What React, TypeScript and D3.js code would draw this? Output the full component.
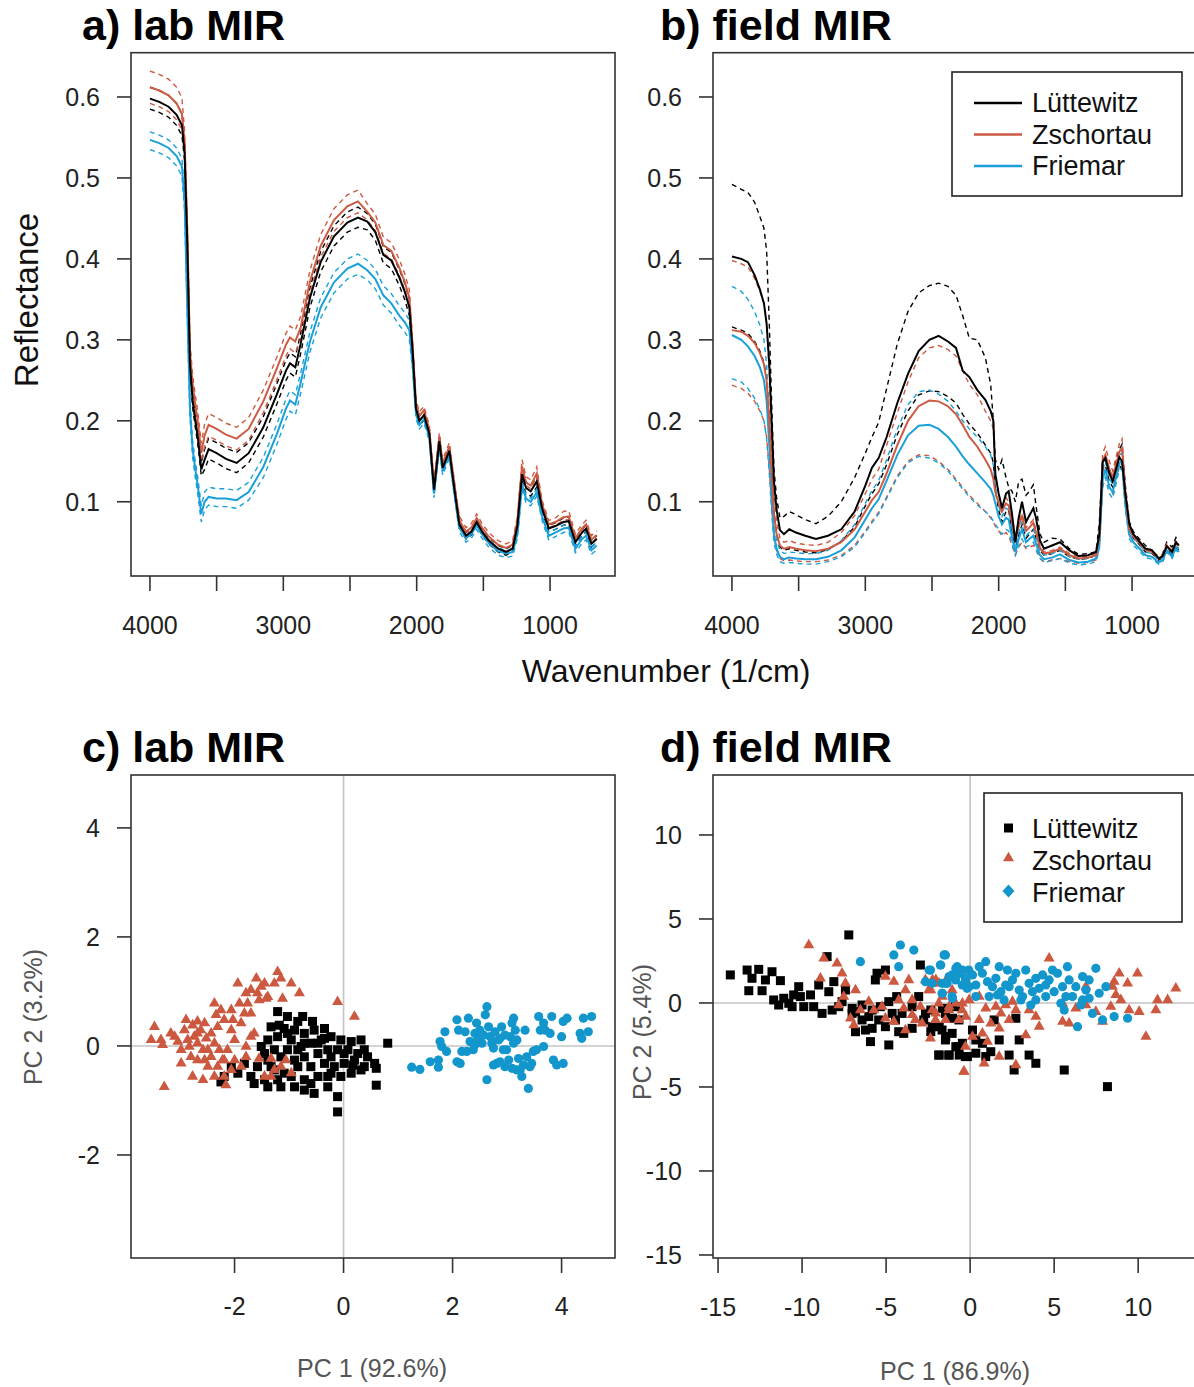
import React from 'react';
import * as d3 from 'd3';

// ---------- DATA ----------
const SITES = ['Lüttewitz', 'Zschortau', 'Friemar'];
const LINE_COLORS = ['#000000', '#cd5a42', '#1aa0d8'];
const POINT_COLORS = ['#000000', '#cc5840', '#1296cc'];

const SPEC_X_TICKS = [4000, 3500, 3000, 2500, 2000, 1500, 1000];
const SPEC_X_LABELS = [4000, 3000, 2000, 1000];
const SPEC_Y_TICKS = [0.1, 0.2, 0.3, 0.4, 0.5, 0.6];

const LAB_WN = [4000,3930,3860,3800,3760,3740,3720,3700,3680,3660,
 3640,3615,3590,3560,3500,3430,3350,3260,3150,3050,
 2980,2950,2910,2870,2800,2720,2620,2520,2440,2370,
 2310,2250,2190,2130,2090,2055,2030,2005,1980,1945,
 1905,1870,1830,1805,1755,1715,1680,1630,1590,1550,
 1510,1460,1390,1330,1280,1245,1210,1180,1145,1100,
 1060,1010,960,900,860,810,760,730,690,650];

const LAB_LUT_MEAN = [.598,.594,.588,.578,.565,.530,.420,.270,.225,.200,
 .178,.140,.152,.165,.160,.153,.148,.160,.192,.232,
 .262,.271,.266,.295,.352,.396,.428,.445,.451,.446,
 .433,.405,.398,.377,.360,.340,.285,.215,.200,.207,
 .184,.115,.175,.142,.163,.113,.072,.058,.063,.075,
 .063,.052,.042,.038,.042,.070,.134,.117,.113,.125,
 .092,.067,.070,.075,.076,.050,.062,.067,.048,.054];
const LAB_LUT_UP = [.612,.608,.602,.592,.579,.540,.430,.278,.233,.208,
 .186,.148,.165,.178,.173,.166,.161,.173,.205,.245,
 .275,.284,.279,.308,.365,.409,.441,.458,.464,.456,
 .443,.415,.408,.387,.370,.350,.291,.221,.206,.213,
 .188,.119,.180,.146,.168,.117,.076,.062,.067,.079,
 .067,.056,.046,.042,.046,.075,.142,.124,.120,.132,
 .097,.071,.074,.080,.081,.054,.066,.071,.052,.058];
const LAB_LUT_LO = [.585,.581,.575,.565,.552,.522,.412,.262,.217,.192,
 .170,.132,.140,.153,.148,.141,.136,.148,.180,.220,
 .250,.259,.254,.283,.340,.384,.416,.433,.439,.436,
 .423,.395,.388,.367,.350,.330,.279,.209,.194,.201,
 .180,.111,.170,.138,.158,.109,.068,.054,.059,.071,
 .059,.048,.038,.034,.038,.066,.126,.110,.107,.118,
 .088,.063,.066,.071,.072,.046,.058,.063,.044,.050];
const LAB_ZSC_MEAN = [.612,.608,.602,.592,.579,.545,.435,.285,.245,.220,
 .198,.160,.182,.195,.190,.183,.178,.190,.224,.264,
 .294,.303,.298,.315,.372,.416,.448,.465,.471,.458,
 .445,.417,.410,.389,.372,.352,.291,.221,.206,.213,
 .189,.120,.180,.147,.168,.118,.077,.063,.068,.080,
 .068,.057,.047,.043,.047,.076,.144,.124,.120,.135,
 .097,.072,.075,.081,.082,.055,.067,.072,.053,.059];
const LAB_ZSC_UP = [.632,.628,.622,.612,.599,.557,.447,.297,.257,.232,
 .210,.172,.196,.209,.204,.197,.192,.204,.238,.278,
 .308,.317,.312,.329,.386,.430,.462,.479,.485,.468,
 .455,.427,.420,.399,.382,.362,.296,.226,.211,.218,
 .194,.125,.185,.152,.173,.123,.082,.068,.073,.085,
 .073,.062,.052,.048,.052,.082,.152,.131,.127,.143,
 .102,.077,.080,.088,.089,.060,.072,.077,.058,.064];
const LAB_ZSC_LO = [.592,.588,.582,.572,.559,.535,.425,.275,.235,.210,
 .188,.150,.168,.181,.176,.169,.164,.176,.210,.250,
 .280,.289,.284,.301,.358,.402,.434,.451,.457,.448,
 .435,.407,.400,.379,.362,.342,.286,.216,.201,.208,
 .185,.116,.176,.143,.164,.114,.073,.059,.064,.076,
 .064,.053,.043,.039,.043,.072,.140,.120,.116,.131,
 .093,.068,.071,.077,.078,.051,.063,.068,.049,.055];
const LAB_FRI_MEAN = [.547,.543,.537,.527,.514,.470,.340,.215,.165,.140,
 .118,.085,.100,.106,.104,.104,.102,.112,.143,.183,
 .215,.225,.220,.247,.298,.340,.371,.388,.394,.386,
 .375,.355,.345,.330,.322,.312,.268,.208,.195,.202,
 .180,.110,.170,.138,.159,.108,.068,.055,.060,.071,
 .060,.049,.039,.036,.038,.060,.120,.104,.100,.112,
 .082,.058,.062,.067,.068,.042,.054,.058,.040,.046];
const LAB_FRI_UP = [.557,.553,.547,.537,.524,.480,.350,.225,.175,.150,
 .128,.095,.112,.118,.116,.116,.114,.124,.155,.195,
 .227,.237,.232,.259,.310,.352,.383,.400,.406,.398,
 .387,.367,.357,.342,.334,.324,.273,.213,.200,.207,
 .184,.114,.174,.142,.163,.112,.072,.059,.064,.075,
 .064,.053,.043,.040,.042,.064,.124,.108,.104,.116,
 .086,.062,.066,.071,.072,.046,.058,.062,.044,.050];
const LAB_FRI_LO = [.535,.531,.525,.515,.502,.460,.330,.205,.155,.130,
 .108,.075,.090,.096,.094,.094,.092,.102,.130,.170,
 .202,.212,.207,.234,.285,.327,.358,.375,.381,.374,
 .363,.343,.333,.318,.310,.300,.263,.203,.190,.197,
 .175,.105,.165,.133,.154,.103,.063,.050,.055,.066,
 .055,.044,.034,.031,.033,.055,.115,.099,.095,.107,
 .077,.053,.057,.062,.063,.037,.049,.053,.035,.041];

const FIELD_WN = [4000,3930,3880,3830,3790,3760,3740,3720,3700,3685,
 3665,3640,3610,3570,3520,3450,3370,3280,3180,3080,
 3000,2950,2900,2840,2760,2680,2600,2520,2450,2380,
 2320,2270,2220,2160,2100,2060,2040,2025,2000,1975,
 1945,1925,1900,1875,1850,1825,1795,1770,1740,1720,
 1690,1660,1600,1540,1470,1400,1330,1270,1245,1220,
 1200,1170,1145,1120,1095,1075,1050,1020,990,950,
 900,850,800,770,740,700,670,650];

const FIELD_LUT_MEAN = [.403,.400,.396,.380,.362,.345,.320,.270,.190,.125,
 .090,.065,.060,.066,.062,.058,.054,.058,.066,.088,
 .120,.142,.154,.180,.222,.258,.286,.300,.305,.298,
 .290,.262,.254,.238,.226,.212,.200,.134,.110,.092,
 .110,.113,.085,.050,.080,.100,.075,.083,.092,.080,
 .052,.042,.046,.050,.040,.033,.034,.038,.060,.150,
 .154,.135,.125,.140,.155,.150,.110,.072,.060,.052,
 .042,.040,.030,.033,.045,.038,.050,.046];
const FIELD_LUT_UP = [.492,.486,.482,.470,.452,.438,.410,.320,.210,.140,
 .105,.080,.082,.088,.084,.078,.073,.082,.100,.130,
 .160,.180,.198,.240,.295,.335,.358,.367,.370,.366,
 .355,.330,.302,.300,.278,.245,.200,.152,.140,.152,
 .130,.118,.113,.100,.125,.128,.108,.113,.121,.095,
 .060,.050,.055,.054,.042,.035,.036,.038,.075,.154,
 .150,.138,.129,.150,.165,.171,.120,.075,.063,.055,
 .046,.040,.030,.036,.050,.044,.056,.054];
const FIELD_LUT_LO = [.316,.312,.308,.298,.286,.272,.252,.205,.135,.088,
 .060,.044,.040,.042,.040,.038,.037,.041,.051,.069,
 .095,.110,.122,.146,.183,.212,.232,.237,.236,.230,
 .222,.208,.196,.185,.170,.160,.148,.115,.090,.075,
 .088,.090,.062,.040,.058,.072,.055,.060,.066,.055,
 .040,.034,.036,.040,.032,.029,.030,.034,.050,.140,
 .145,.125,.118,.130,.145,.140,.100,.065,.055,.048,
 .038,.036,.028,.031,.042,.034,.046,.040];
const FIELD_ZSC_MEAN = [.312,.310,.305,.296,.284,.270,.250,.200,.130,.085,
 .060,.046,.042,.044,.042,.040,.039,.042,.050,.066,
 .088,.102,.112,.135,.170,.200,.218,.225,.224,.218,
 .208,.195,.180,.168,.152,.140,.128,.112,.098,.088,
 .098,.095,.075,.052,.070,.082,.064,.068,.074,.062,
 .043,.036,.038,.042,.034,.030,.031,.034,.058,.150,
 .158,.140,.130,.146,.162,.166,.110,.066,.057,.050,
 .041,.038,.030,.033,.046,.038,.050,.045];
const FIELD_ZSC_UP = [.398,.394,.390,.376,.360,.345,.320,.260,.170,.110,
 .075,.055,.050,.052,.049,.047,.046,.050,.062,.083,
 .110,.128,.140,.170,.210,.248,.278,.290,.293,.288,
 .280,.262,.245,.232,.212,.200,.190,.134,.110,.095,
 .105,.100,.080,.060,.075,.085,.068,.072,.078,.065,
 .045,.038,.040,.044,.036,.032,.033,.036,.062,.160,
 .168,.150,.138,.155,.172,.178,.115,.070,.060,.052,
 .043,.040,.032,.035,.048,.040,.052,.048];
const FIELD_ZSC_LO = [.244,.240,.234,.224,.212,.200,.180,.140,.090,.058,
 .040,.030,.027,.028,.027,.026,.026,.028,.034,.046,
 .064,.076,.087,.106,.132,.150,.158,.157,.150,.140,
 .128,.118,.108,.098,.088,.080,.075,.070,.064,.058,
 .062,.058,.046,.034,.044,.050,.042,.044,.046,.040,
 .030,.026,.028,.030,.026,.024,.025,.028,.042,.130,
 .138,.118,.110,.126,.145,.150,.095,.058,.050,.044,
 .034,.032,.025,.028,.040,.032,.043,.038];
const FIELD_FRI_MEAN = [.306,.300,.292,.280,.266,.250,.225,.170,.100,.060,
 .042,.032,.029,.031,.030,.029,.029,.032,.040,.056,
 .078,.092,.103,.126,.158,.182,.194,.195,.190,.180,
 .168,.156,.146,.135,.124,.116,.108,.098,.082,.072,
 .080,.078,.056,.038,.054,.066,.050,.054,.058,.048,
 .034,.029,.031,.035,.028,.025,.026,.030,.048,.128,
 .140,.118,.112,.130,.148,.150,.098,.060,.050,.043,
 .034,.032,.025,.028,.040,.032,.044,.038];
const FIELD_FRI_UP = [.366,.360,.350,.335,.318,.300,.270,.200,.120,.075,
 .052,.040,.036,.038,.037,.036,.036,.040,.052,.072,
 .098,.114,.126,.152,.190,.220,.236,.238,.233,.224,
 .212,.200,.190,.180,.168,.158,.145,.120,.095,.082,
 .092,.090,.065,.045,.062,.075,.058,.062,.066,.056,
 .040,.034,.036,.040,.032,.029,.030,.034,.055,.140,
 .150,.128,.122,.140,.158,.160,.105,.065,.056,.048,
 .038,.036,.028,.031,.044,.036,.048,.042];
const FIELD_FRI_LO = [.252,.248,.240,.228,.214,.200,.178,.135,.082,.050,
 .035,.026,.024,.025,.024,.023,.023,.026,.032,.044,
 .062,.074,.085,.104,.130,.148,.156,.154,.148,.138,
 .126,.116,.106,.096,.088,.082,.076,.072,.066,.060,
 .066,.064,.048,.034,.046,.054,.044,.046,.050,.042,
 .030,.025,.027,.030,.024,.022,.023,.026,.042,.118,
 .130,.110,.104,.122,.140,.140,.090,.054,.046,.040,
 .031,.029,.023,.026,.038,.030,.041,.035];

// PCA scores, lab MIR [PC1, PC2]
const C_TICKS = [-2, 0, 2, 4];
const C_LUT = [[-1.21,0.63],[-1.03,0.54],[-0.75,0.54],[-0.57,0.45],[-1.33,0.35],[-1.09,0.32],[-0.90,0.29],[-1.39,0.11],[-1.21,0.17],[-0.96,0.11],
 [-0.72,0.23],[-0.54,0.29],[-0.35,0.32],[-1.51,-0.01],[-1.27,-0.07],[-1.03,-0.07],[-0.78,-0.01],[-0.60,0.05],[-0.41,0.11],[-0.23,0.17],
 [-0.05,0.11],[0.14,0.08],[0.32,0.11],[0.81,0.05],[-1.39,-0.26],[-1.15,-0.20],[-0.90,-0.26],[-0.72,-0.20],[-0.47,-0.14],[-0.29,-0.07],
 [-0.11,-0.07],[0.08,-0.07],[0.26,-0.14],[0.44,-0.20],[0.57,-0.32],[-2.06,-0.38],[-1.82,-0.32],[-1.58,-0.38],[-1.33,-0.38],[-1.09,-0.50],
 [-0.84,-0.38],[-0.60,-0.38],[-0.35,-0.32],[-0.17,-0.38],[0.01,-0.32],[0.20,-0.26],[0.38,-0.38],[0.60,-0.41],[-2.19,-0.56],[-1.94,-0.50],
 [-1.70,-0.56],[-1.45,-0.62],[-1.21,-0.62],[-0.96,-0.56],[-0.72,-0.62],[-0.47,-0.56],[-0.23,-0.50],[-0.05,-0.56],[0.14,-0.50],[0.32,-0.44],
 [-2.25,-0.66],[-1.64,-0.69],[-1.39,-0.75],[-1.15,-0.75],[-0.90,-0.75],[-0.72,-0.81],[-0.54,-0.87],[-0.29,-0.75],[-0.11,-0.93],[0.60,-0.72],
 [-0.11,-1.21],[-1.27,-0.44],[-0.84,-0.07],[-0.47,0.05],[-0.23,-0.20],[-0.72,0.05],[-1.03,0.23],[-1.18,0.38],[-0.84,0.45],[-0.35,0.14],
 [0.01,-0.14],[0.17,-0.35],[0.38,-0.07],[-0.29,-0.56],[-0.60,-0.69],[-1.45,-0.14]];
const C_ZSC = [[-3.47,0.35],[-3.53,0.11],[-3.35,0.11],[-3.32,0.02],[-3.29,-0.75],[-2.98,-0.32],[-3.10,0.17],[-2.92,0.29],[-2.89,0.48],[-2.83,-0.01],
 [-2.77,0.38],[-2.74,0.17],[-2.68,0.45],[-2.68,0.05],[-2.62,0.29],[-2.58,-0.07],[-2.55,-0.26],[-2.52,0.14],[-2.43,0.23],[-2.37,0.78],
 [-2.34,0.57],[-2.31,0.35],[-2.28,-0.07],[-2.25,0.66],[-2.22,-0.26],[-2.19,0.48],[-2.13,-0.07],[-2.06,0.66],[-2.06,0.29],[-2.03,0.48],
 [-2.00,-0.26],[-1.94,1.15],[-1.91,0.78],[-1.88,0.42],[-1.82,0.60],[-1.79,0.97],[-1.76,0.78],[-1.70,0.60],[-1.70,1.03],[-1.64,0.23],
 [-1.60,1.24],[-1.58,0.97],[-1.55,0.84],[-1.51,1.09],[-1.45,1.15],[-1.42,0.87],[-1.39,0.90],[-1.27,1.15],[-1.21,1.36],[-1.15,1.24],
 [-1.12,0.87],[-0.96,1.15],[-0.81,0.97],[-1.55,-0.23],[-1.33,-0.23],[-1.27,-0.44],[-1.15,-0.38],[-1.06,-0.26],[-0.96,-0.50],[-2.77,-0.56],
 [-2.58,-0.62],[-2.37,-0.56],[-2.19,-0.56],[-2.16,-0.72],[-1.88,-0.38],[-1.79,-0.20],[-2.43,-0.20],[-2.31,-0.38],[-0.11,0.81],[0.20,0.54],
 [-1.70,0.17],[-2.98,-0.07],[-2.68,-0.26],[-2.49,-0.38],[-3.17,0.23],[-2.86,0.11],[-3.04,0.08],[-2.00,0.11],[-2.06,-0.44],[-1.79,-0.01],
 [-1.45,-0.56],[-1.33,-0.56],[-2.19,-0.26],[-2.49,-0.07],[-2.80,-0.20],[-2.68,0.23],[-2.55,0.42],[-2.37,0.05]];
const C_FRI = [[1.25,-0.39],[1.40,-0.43],[1.59,-0.29],[1.74,-0.26],[1.74,-0.39],[1.77,0.08],[1.80,-0.01],[1.86,0.26],[2.08,-0.29],[2.14,-0.32],
 [2.17,-0.10],[2.08,0.48],[2.11,0.29],[2.23,0.26],[2.29,0.51],[2.32,0.08],[2.38,-0.07],[2.41,0.23],[2.44,0.42],[2.47,0.14],
 [2.50,0.29],[2.54,0.05],[2.57,0.20],[2.60,0.57],[2.63,0.72],[2.63,-0.62],[2.66,0.35],[2.69,0.17],[2.72,0.05],[2.75,-0.04],
 [2.78,0.26],[2.81,-0.32],[2.84,0.11],[2.87,0.14],[2.90,0.35],[2.93,-0.07],[2.96,-0.38],[2.99,-0.07],[3.03,-0.26],[3.06,0.17],
 [3.09,0.42],[3.12,0.51],[3.15,0.29],[3.18,0.11],[3.21,-0.23],[3.24,-0.44],[3.27,-0.56],[3.30,-0.35],[3.33,0.29],[3.36,-0.20],
 [3.39,-0.78],[3.42,-0.38],[3.45,-0.32],[3.48,-0.10],[3.54,-0.07],[3.58,0.54],[3.61,0.29],[3.67,0.42],[3.70,0.29],[3.79,0.23],
 [3.82,0.54],[3.85,-0.26],[3.91,-0.35],[4.00,0.17],[4.03,-0.32],[4.03,0.45],[4.10,0.51],[4.34,0.23],[4.37,0.14],[4.40,0.51],
 [4.49,0.26],[4.55,0.54],[3.67,-0.01],[3.12,0.05],[2.96,0.20],[2.41,0.02],[2.26,-0.10],[1.89,-0.10],[2.75,-0.35],[2.87,-0.29],
 [3.18,-0.44],[3.09,-0.41]];

// PCA scores, field MIR [PC1, PC2]
const D_TICKS = [-15, -10, -5, 0, 5, 10];
const D_LUT = [[-14.27,1.67],[-13.27,1.96],[-12.58,2.00],[-11.79,1.86],[-12.98,1.47],[-12.18,1.37],[-11.29,1.33],[-13.17,0.73],[-12.38,0.73],[-11.69,0.18],
 [-11.09,0.28],[-10.50,0.48],[-10.20,0.97],[-10.10,0.38],[-9.50,0.48],[-9.01,1.07],[-8.41,0.67],[-8.11,1.27],[-7.22,4.05],[-8.51,2.76],
 [-10.59,-0.22],[-9.90,-0.22],[-9.31,-0.22],[-8.81,-0.62],[-8.21,-0.42],[-7.62,0.08],[-7.02,-0.32],[-6.43,-0.12],[-5.83,-0.42],[-5.34,-0.22],
 [-4.84,0.08],[-4.37,0.38],[-6.03,-0.81],[-5.44,-1.01],[-5.04,-1.41],[-6.23,-1.61],[-5.83,-1.51],[-4.44,-1.01],[-4.05,-0.62],[-3.45,-0.22],
 [-3.06,0.38],[-2.66,-0.62],[-2.26,-1.41],[-1.67,-1.61],[-1.07,-1.81],[-0.67,-1.01],[-1.47,-2.20],[-1.87,-3.10],[-1.27,-3.10],[-0.67,-2.60],
 [-0.28,-3.19],[-6.82,-1.71],[-5.93,-2.30],[-4.84,-2.50],[-5.54,1.77],[-5.04,1.96],[-5.64,1.37],[-2.96,2.26],[-7.42,0.77],[-6.82,-0.52],
 [-3.45,-1.51],[-4.25,-1.71],[-2.76,-1.01],[-1.47,-0.62],[-0.87,-0.22],[-3.95,-1.81],[-4.64,-0.62],[-6.43,-1.01],[-7.02,-0.62],[-7.82,-0.22],
 [-11.39,-0.12],[-10.79,-0.02],[-2.34,-0.42],[-1.65,-0.32],[-1.05,-0.91],[-1.84,-1.41],[-2.34,-1.71],[-1.45,-2.00],[-0.85,-2.60],[-0.46,-2.40],
 [0.14,-1.61],[0.34,-2.20],[0.73,-2.40],[1.43,-1.01],[1.73,-2.20],[2.72,-0.91],[2.92,-2.20],[1.23,-2.90],[0.93,-3.19],[0.34,-2.99],
 [-0.16,-3.19],[-0.65,-3.10],[-1.25,-3.10],[-1.84,-3.10],[2.32,-3.10],[3.51,-3.10],[3.91,-3.59],[2.62,-3.99],[5.60,-3.99],[8.17,-4.98]];
const D_ZSC = [[-9.60,3.45],[-8.71,2.66],[-7.92,2.36],[-7.62,1.77],[-8.91,1.47],[-7.42,1.17],[-6.82,0.77],[-7.82,-0.12],[-7.52,0.38],[-7.12,-0.91],
 [-6.92,-1.31],[-6.53,-0.42],[-6.03,0.08],[-5.73,-0.42],[-5.24,-0.22],[-5.04,1.57],[-4.54,1.27],[-4.25,0.18],[-3.85,0.77],[-3.95,-0.32],
 [-3.65,1.37],[-3.45,0.18],[-3.26,-1.01],[-2.86,-1.21],[-2.66,1.37],[-2.46,0.77],[-2.36,-2.10],[-2.26,-0.42],[-2.06,-1.01],[-1.87,-0.02],
 [-1.47,-1.01],[-1.27,-0.42],[-1.07,0.77],[-0.87,-0.02],[-0.67,-1.01],[-0.47,-0.42],[-0.28,-2.60],[-0.38,-4.09],[-4.54,-1.11],[-5.04,-0.91],
 [-3.45,-0.71],[-2.96,-0.22],[-2.26,1.17],[-1.47,1.27],[-3.85,-1.61],[-2.24,1.37],[-1.84,1.17],[-2.34,0.77],[-1.65,0.38],[-2.04,-0.62],
 [-1.25,-0.22],[-0.46,-0.02],[-0.06,0.18],[0.54,0.38],[0.93,-0.32],[-0.26,-0.81],[0.54,-1.01],[1.53,-0.22],[1.83,-0.62],[2.12,-0.12],
 [2.52,0.08],[2.72,-0.42],[1.73,-1.51],[3.31,-1.91],[2.32,-1.01],[3.51,-0.42],[3.91,-0.81],[4.11,-1.41],[0.73,-1.81],[0.14,-2.00],
 [1.03,-2.30],[-0.36,-4.09],[0.83,-3.59],[1.73,-3.19],[2.72,-3.69],[1.23,-1.21],[4.70,2.66],[5.50,-1.11],[5.89,-1.21],[6.29,-0.32],
 [6.89,-0.12],[7.48,-0.52],[7.88,-1.11],[8.37,-0.22],[8.47,0.97],[8.67,0.48],[8.97,0.18],[8.87,1.77],[9.37,1.17],[9.46,-0.42],
 [9.96,1.77],[10.06,-0.52],[10.46,-2.00],[11.05,-0.42],[11.15,0.18],[11.75,0.18],[12.24,0.87],[-2.04,1.37],[5.50,-0.02],[6.89,0.97],
 [8.57,1.27]];
const D_FRI = [[-6.53,2.46],[-4.54,2.86],[-4.15,3.45],[-3.35,3.15],[-4.25,2.16],[-2.36,1.96],[-1.77,2.26],[-1.47,2.86],[-0.77,2.16],[-0.57,1.77],
 [-2.66,1.27],[-2.26,1.17],[-1.67,1.17],[-1.37,1.17],[-1.07,1.67],[-0.87,1.37],[-0.47,1.07],[-0.28,1.47],[-0.08,1.96],[-1.67,0.58],
 [-1.07,0.38],[-0.18,0.87],[-1.55,2.86],[-1.75,2.26],[-2.44,1.96],[-1.45,1.17],[-1.65,0.58],[-1.05,0.28],[-0.85,1.57],[-0.46,1.96],
 [-0.26,1.37],[0.14,1.67],[0.34,1.07],[0.54,2.16],[0.73,1.77],[0.93,2.46],[1.03,1.27],[1.33,0.97],[1.53,1.47],[1.73,2.16],
 [1.83,0.67],[2.02,0.18],[2.22,1.96],[2.32,0.97],[2.52,1.37],[2.72,1.77],[2.92,0.77],[3.02,0.18],[3.31,1.96],[3.51,1.17],
 [3.61,-0.12],[3.71,0.67],[3.91,1.47],[4.11,0.87],[4.31,1.67],[4.50,1.07],[4.70,1.37],[4.90,1.96],[5.00,0.67],[5.20,1.77],
 [5.40,-0.02],[5.50,0.97],[5.60,-0.42],[5.79,2.16],[5.89,1.37],[6.09,0.38],[6.29,0.97],[6.39,-1.41],[6.59,-0.12],[6.69,1.57],
 [6.89,0.77],[7.08,0.28],[7.28,-0.62],[7.48,2.06],[7.68,0.58],[7.88,-1.01],[8.08,0.97],[8.57,-0.81],[9.37,-0.91],[-0.85,2.06],
 [-0.06,0.97],[1.13,0.38],[3.12,0.38],[3.91,0.18],[4.50,0.38],[5.70,0.38],[6.69,0.18],[7.08,1.37],[1.63,0.48],[2.12,1.07],
 [0.34,0.38],[-1.25,1.57]];

// ---------- LAYOUT ----------
const FONT = '"Liberation Sans", Arial, Helvetica, sans-serif';
const SPEC_TOP = 52.7, SPEC_BOTTOM = 576;
const SCAT_TOP = 775, SCAT_BOTTOM = 1258;
const LEFT_A = 131, RIGHT_A = 615, LEFT_B = 713, RIGHT_B = 1197;

const specY = d3.scaleLinear().domain([0.0083, 0.6547]).range([SPEC_BOTTOM, SPEC_TOP]);
const specXa = d3.scaleLinear().domain([4142, 513]).range([LEFT_A, RIGHT_A]);
const specXb = d3.scaleLinear().domain([4142, 513]).range([LEFT_B, RIGHT_B]);

const cX = d3.scaleLinear().domain([-3.9, 4.98]).range([LEFT_A, RIGHT_A]);
const cY = d3.scaleLinear().domain([-3.89, 4.97]).range([SCAT_BOTTOM, SCAT_TOP]);
const dX = d3.scaleLinear().domain([-15.3, 13.5]).range([LEFT_B, RIGHT_B]);
const dY = d3.scaleLinear().domain([-15.18, 13.57]).range([SCAT_BOTTOM, SCAT_TOP]);

const AXIS_COL = '#222';
const TICK_FS = 25;
const SQ = 9;      // square side
const TRI = 11;    // triangle side
const CIR = 4.6;   // circle radius

function Box({ x0, x1, y0, y1 }: any) {
  return <rect x={x0} y={y0} width={x1 - x0} height={y1 - y0} fill="none" stroke="#333" strokeWidth={1.6} />;
}

function XAxis({ scale, ticks, labels, y, labelY }: any) {
  return (
    <g>
      {ticks.map((t: number) => (
        <line key={'t' + t} x1={scale(t)} x2={scale(t)} y1={y} y2={y + 15} stroke="#333" strokeWidth={1.6} />
      ))}
      {labels.map((t: number) => (
        <text key={'l' + t} x={scale(t)} y={labelY} textAnchor="middle" fontSize={TICK_FS} fill={AXIS_COL} fontFamily={FONT}>
          {String(t)}
        </text>
      ))}
    </g>
  );
}

function YAxis({ scale, ticks, x, fmt }: any) {
  return (
    <g>
      {ticks.map((t: number) => (
        <g key={t}>
          <line x1={x - 14} x2={x} y1={scale(t)} y2={scale(t)} stroke="#333" strokeWidth={1.6} />
          <text x={x - 31} y={scale(t) + 9} textAnchor="end" fontSize={TICK_FS} fill={AXIS_COL} fontFamily={FONT}>
            {fmt ? fmt(t) : String(t)}
          </text>
        </g>
      ))}
    </g>
  );
}

function SpecPanel({ xs, wn, series, clipId }: any) {
  const mk = (vals: number[]) =>
    d3.line<number>().x((_, i) => xs(wn[i])).y((v) => specY(v))(vals) || '';
  return (
    <g clipPath={`url(#${clipId})`}>
      {series.map((s: any, k: number) => (
        <g key={k}>
          <path d={mk(s.up)} fill="none" stroke={LINE_COLORS[k]} strokeWidth={1.4} strokeDasharray="5,4" />
          <path d={mk(s.lo)} fill="none" stroke={LINE_COLORS[k]} strokeWidth={1.4} strokeDasharray="5,4" />
        </g>
      ))}
      {[2, 1, 0].map((k) => (
        <path key={'m' + k} d={mk(series[k].mean)} fill="none" stroke={LINE_COLORS[k]} strokeWidth={2} />
      ))}
    </g>
  );
}

function tri(cx: number, cy: number, s: number) {
  const h = s * 0.866;
  return `M${cx},${cy - (h * 2) / 3}L${cx - s / 2},${cy + h / 3}L${cx + s / 2},${cy + h / 3}Z`;
}

function Points({ xs, ys, groups }: any) {
  return (
    <g>
      {groups[0].map((p: number[], i: number) => (
        <rect key={'a' + i} x={xs(p[0]) - SQ / 2} y={ys(p[1]) - SQ / 2} width={SQ} height={SQ} fill={POINT_COLORS[0]} />
      ))}
      {groups[1].map((p: number[], i: number) => (
        <path key={'b' + i} d={tri(xs(p[0]), ys(p[1]), TRI)} fill={POINT_COLORS[1]} />
      ))}
      {groups[2].map((p: number[], i: number) => (
        <circle key={'c' + i} cx={xs(p[0])} cy={ys(p[1])} r={CIR} fill={POINT_COLORS[2]} />
      ))}
    </g>
  );
}

export default function App() {
  const labSeries = [
    { mean: LAB_LUT_MEAN, up: LAB_LUT_UP, lo: LAB_LUT_LO },
    { mean: LAB_ZSC_MEAN, up: LAB_ZSC_UP, lo: LAB_ZSC_LO },
    { mean: LAB_FRI_MEAN, up: LAB_FRI_UP, lo: LAB_FRI_LO },
  ];
  const fieldSeries = [
    { mean: FIELD_LUT_MEAN, up: FIELD_LUT_UP, lo: FIELD_LUT_LO },
    { mean: FIELD_ZSC_MEAN, up: FIELD_ZSC_UP, lo: FIELD_ZSC_LO },
    { mean: FIELD_FRI_MEAN, up: FIELD_FRI_UP, lo: FIELD_FRI_LO },
  ];
  const titleStyle = { fontFamily: FONT, fontWeight: 700, fontSize: 43 } as any;
  const fmt1 = (t: number) => t.toFixed(1);
  const fmtD = (t: number) => String(t);

  return (
    <svg width={1194} height={1387} style={{ position: 'absolute', left: 0, top: 0, background: '#fff' }}>
      <defs>
        <clipPath id="clipA"><rect x={LEFT_A} y={SPEC_TOP} width={RIGHT_A - LEFT_A} height={SPEC_BOTTOM - SPEC_TOP} /></clipPath>
        <clipPath id="clipB"><rect x={LEFT_B} y={SPEC_TOP} width={RIGHT_B - LEFT_B} height={SPEC_BOTTOM - SPEC_TOP} /></clipPath>
        <clipPath id="clipC"><rect x={LEFT_A} y={SCAT_TOP} width={RIGHT_A - LEFT_A} height={SCAT_BOTTOM - SCAT_TOP} /></clipPath>
        <clipPath id="clipD"><rect x={LEFT_B} y={SCAT_TOP} width={RIGHT_B - LEFT_B} height={SCAT_BOTTOM - SCAT_TOP} /></clipPath>
      </defs>
      <rect x={0} y={0} width={1194} height={1387} fill="#fff" />

      {/* Titles */}
      <text x={82} y={40} {...titleStyle}>a) lab MIR</text>
      <text x={660} y={40} {...titleStyle}>b) field MIR</text>
      <text x={82} y={762} {...titleStyle}>c) lab MIR</text>
      <text x={660} y={762} {...titleStyle}>d) field MIR</text>

      {/* Panel a */}
      <SpecPanel xs={specXa} wn={LAB_WN} series={labSeries} clipId="clipA" />
      <Box x0={LEFT_A} x1={RIGHT_A} y0={SPEC_TOP} y1={SPEC_BOTTOM} />
      <XAxis scale={specXa} ticks={SPEC_X_TICKS} labels={SPEC_X_LABELS} y={SPEC_BOTTOM} labelY={634} />
      <YAxis scale={specY} ticks={SPEC_Y_TICKS} x={LEFT_A} fmt={fmt1} />

      {/* Panel b */}
      <SpecPanel xs={specXb} wn={FIELD_WN} series={fieldSeries} clipId="clipB" />
      <Box x0={LEFT_B} x1={RIGHT_B} y0={SPEC_TOP} y1={SPEC_BOTTOM} />
      <XAxis scale={specXb} ticks={SPEC_X_TICKS} labels={SPEC_X_LABELS} y={SPEC_BOTTOM} labelY={634} />
      <YAxis scale={specY} ticks={SPEC_Y_TICKS} x={LEFT_B} fmt={fmt1} />

      {/* Legend b */}
      <g fontFamily={FONT}>
        <rect x={952} y={72} width={230} height={124} fill="#fff" stroke="#222" strokeWidth={1.6} />
        {SITES.map((s, i) => (
          <g key={s}>
            <line x1={974} x2={1022} y1={103 + i * 31.5} y2={103 + i * 31.5} stroke={LINE_COLORS[i]} strokeWidth={2.6} />
            <text x={1032} y={112 + i * 31.5} fontSize={27} fill="#111">{s}</text>
          </g>
        ))}
      </g>

      {/* Axis titles top */}
      <text transform="translate(38,300) rotate(-90)" textAnchor="middle" fontSize={33} fontFamily={FONT} fill="#111">Reflectance</text>
      <text x={666} y={682} textAnchor="middle" fontSize={32} fontFamily={FONT} fill="#111">Wavenumber (1/cm)</text>

      {/* Panel c */}
      <g clipPath="url(#clipC)">
        <line x1={cX(0)} x2={cX(0)} y1={SCAT_TOP} y2={SCAT_BOTTOM} stroke="#c4c4c4" strokeWidth={1.6} />
        <line x1={LEFT_A} x2={RIGHT_A} y1={cY(0)} y2={cY(0)} stroke="#c4c4c4" strokeWidth={1.6} />
        <Points xs={cX} ys={cY} groups={[C_LUT, C_ZSC, C_FRI]} />
      </g>
      <Box x0={LEFT_A} x1={RIGHT_A} y0={SCAT_TOP} y1={SCAT_BOTTOM} />
      <XAxis scale={cX} ticks={C_TICKS} labels={C_TICKS} y={SCAT_BOTTOM} labelY={1315} />
      <YAxis scale={cY} ticks={C_TICKS} x={LEFT_A} fmt={fmtD} />
      <text transform="translate(42,1017) rotate(-90)" textAnchor="middle" fontSize={25} fontFamily={FONT} fill="#555">PC 2 (3.2%)</text>
      <text x={372} y={1377} textAnchor="middle" fontSize={25} fontFamily={FONT} fill="#555">PC 1 (92.6%)</text>

      {/* Panel d */}
      <g clipPath="url(#clipD)">
        <line x1={dX(0)} x2={dX(0)} y1={SCAT_TOP} y2={SCAT_BOTTOM} stroke="#c4c4c4" strokeWidth={1.6} />
        <line x1={LEFT_B} x2={RIGHT_B} y1={dY(0)} y2={dY(0)} stroke="#c4c4c4" strokeWidth={1.6} />
        <Points xs={dX} ys={dY} groups={[D_LUT, D_ZSC, D_FRI]} />
      </g>
      <Box x0={LEFT_B} x1={RIGHT_B} y0={SCAT_TOP} y1={SCAT_BOTTOM} />
      <XAxis scale={dX} ticks={D_TICKS} labels={D_TICKS} y={SCAT_BOTTOM} labelY={1316} />
      <YAxis scale={dY} ticks={D_TICKS} x={LEFT_B} fmt={fmtD} />
      <text transform="translate(651,1032) rotate(-90)" textAnchor="middle" fontSize={25} fontFamily={FONT} fill="#555">PC 2 (5.4%)</text>
      <text x={955} y={1380} textAnchor="middle" fontSize={25} fontFamily={FONT} fill="#555">PC 1 (86.9%)</text>

      {/* Legend d */}
      <g fontFamily={FONT}>
        <rect x={984} y={793} width={198} height={129} fill="#fff" stroke="#222" strokeWidth={1.6} />
        <rect x={1004} y={823.5} width={9} height={9} fill={POINT_COLORS[0]} />
        <path d={tri(1008.5, 858, 11)} fill={POINT_COLORS[1]} />
        <path d="M1008.5,884.5L1014.5,891L1008.5,897.5L1002.5,891Z" fill={POINT_COLORS[2]} />
        {SITES.map((s, i) => (
          <text key={s} x={1032} y={838 + i * 32} fontSize={27} fill="#111">{s}</text>
        ))}
      </g>
    </svg>
  );
}
